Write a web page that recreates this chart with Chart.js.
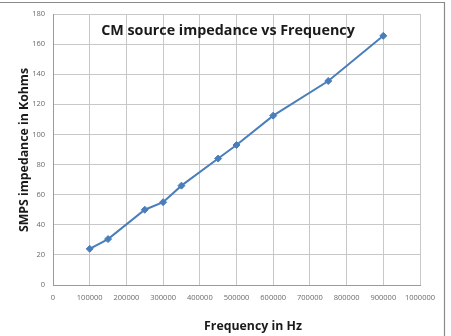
<!DOCTYPE html>
<html>
<head>
<meta charset="utf-8">
<script src="https://cdn.jsdelivr.net/npm/chart.js@4/dist/chart.umd.min.js"></script>
<style>
  html, body { margin: 0; padding: 0; background: #fff; }
  #wrap { width: 451px; height: 336px; position: relative; }
</style>
</head>
<body>
<div id="wrap"><canvas id="cv" width="451" height="336"></canvas></div>
<script>
// data
const frequencyHz = [100000, 150000, 250000, 300000, 350000, 450000, 500000, 600000, 750000, 900000];
const impedanceKohm = [24, 30.5, 50, 55, 66, 84, 93, 112.5, 135.5, 165.5];
const yTicks = [0, 20, 40, 60, 80, 100, 120, 140, 160, 180];
const xTicks = [0, 100000, 200000, 300000, 400000, 500000, 600000, 700000, 800000, 900000, 1000000];

const chartTitle = "CM source impedance vs Frequency";
const xTitle = "Frequency in Hz";
const yTitle = "SMPS impedance in Kohms";

const blue = "#4a7ebb";
const font = "'Open Sans', 'Liberation Sans', sans-serif";

// titles + outer frame drawn on top of the plot
const decor = {
  id: "decor",
  afterDraw(chart){
    const ctx = chart.ctx;
    ctx.save();
    // frame (top and right edge visible)
    ctx.strokeStyle = "#8a8a8a";
    ctx.lineWidth = 1.2;
    ctx.beginPath();
    ctx.moveTo(0, 2.5);
    ctx.lineTo(444.5, 2.5);
    ctx.lineTo(444.5, 336);
    ctx.stroke();

    ctx.fillStyle = "#1a1a1a";
    ctx.textAlign = "center";
    ctx.textBaseline = "middle";
    ctx.font = "bold 14.3px " + font;
    ctx.fillText(chartTitle, 228, 31);

    ctx.font = "bold 12.3px " + font;
    ctx.fillText(xTitle, 253, 326);

    ctx.translate(24, 150);
    ctx.rotate(-Math.PI / 2);
    ctx.font = "bold 12.3px " + font;
    ctx.fillText(yTitle, 0, 0);
    ctx.restore();
  }
};

new Chart(document.getElementById("cv"), {
  type: "scatter",
  data: {
    datasets: [{
      data: frequencyHz.map((f, i) => ({ x: f, y: impedanceKohm[i] })),
      showLine: true,
      borderColor: blue,
      backgroundColor: blue,
      borderWidth: 2,
      pointStyle: "rectRot",
      pointRadius: 3.5,
      pointBorderWidth: 1,
      tension: 0
    }]
  },
  options: {
    responsive: false,
    animation: false,
    layout: { padding: { top: 14, right: 31, left: 0, bottom: 0 } },
    plugins: { legend: { display: false }, tooltip: { enabled: false } },
    scales: {
      x: {
        type: "linear",
        min: 0, max: 1000000,
        afterBuildTicks: s => { s.ticks = xTicks.map(v => ({ value: v })); },
        afterFit: s => { s.height = 51; },
        grid: { color: "#c8c8c8", drawTicks: false },
        border: { color: "#9a9a9a" },
        ticks: { color: "#6a6a6a", font: { size: 7.5, family: font }, padding: 8, maxRotation: 0, autoSkip: false, callback: v => String(v) }
      },
      y: {
        min: 0, max: 180,
        afterBuildTicks: s => { s.ticks = yTicks.map(v => ({ value: v })); },
        afterFit: s => { s.width = 53; },
        grid: { color: "#c8c8c8", drawTicks: false },
        border: { color: "#9a9a9a" },
        ticks: { color: "#6a6a6a", font: { size: 7.5, family: font }, padding: 8 }
      }
    }
  },
  plugins: [decor]
});
</script>
</body>
</html>
